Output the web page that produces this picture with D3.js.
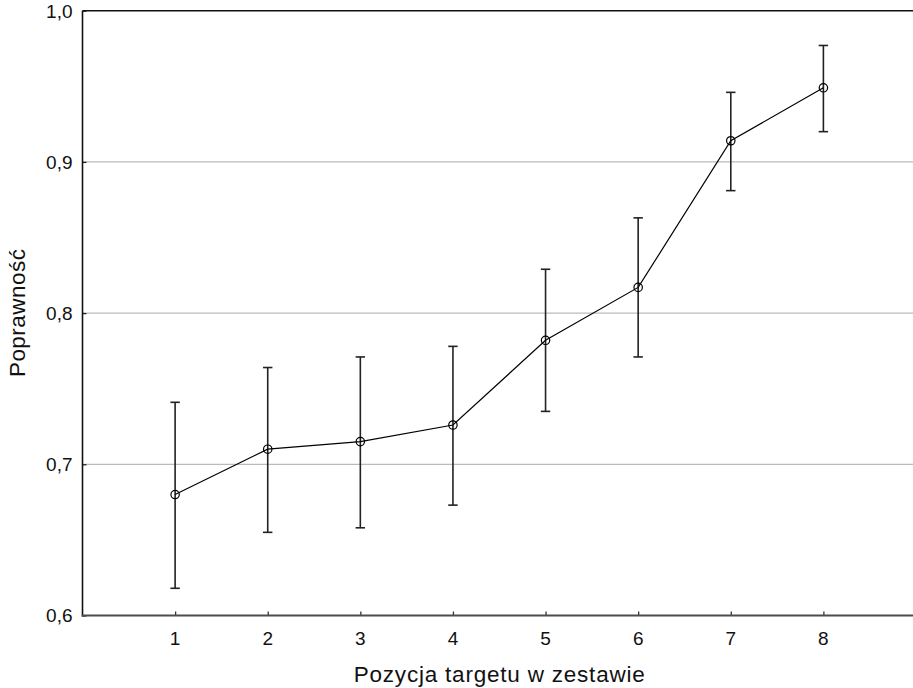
<!DOCTYPE html>
<html>
<head>
<meta charset="utf-8">
<script src="https://cdn.jsdelivr.net/npm/d3@7"></script>
<style>
  html, body { margin: 0; padding: 0; background: #fff; }
  svg { display: block; font-family: "Liberation Sans", Arial, sans-serif; }
</style>
</head>
<body>
<svg id="chart" width="913" height="688"></svg>
<script>
// Accuracy by target position, with confidence intervals
const positions = [1, 2, 3, 4, 5, 6, 7, 8];
const means     = [0.680, 0.710, 0.715, 0.726, 0.782, 0.817, 0.914, 0.949];
const upper     = [0.741, 0.764, 0.771, 0.778, 0.829, 0.863, 0.946, 0.977];
const lower     = [0.618, 0.655, 0.658, 0.673, 0.735, 0.771, 0.881, 0.920];
const yTicks    = [0.6, 0.7, 0.8, 0.9, 1.0];
const gridVals  = [0.7, 0.8, 0.9];

const svg = d3.select("#chart");
const plotLeft = 82.5, plotRight = 916, plotTop = 10.7, plotBottom = 615.5;

const x = d3.scaleLinear().domain([0, 9]).range([plotLeft, plotRight]);
const y = d3.scaleLinear().domain([0.6, 1.0]).range([plotBottom, plotTop]);
const fmt = v => d3.format(".1f")(v).replace(".", ",");

// horizontal grid lines
svg.append("g").selectAll("line").data(gridVals).join("line")
  .attr("x1", plotLeft).attr("x2", 913)
  .attr("y1", d => y(d)).attr("y2", d => y(d))
  .attr("stroke", "#aaaaaa").attr("stroke-width", 1);

// y axis: short inward ticks, labels on the left
const yAxis = svg.append("g")
  .attr("transform", `translate(${plotLeft},0)`)
  .call(d3.axisRight(y).tickValues(yTicks).tickSize(4).tickFormat(""));
yAxis.select(".domain").remove();
yAxis.selectAll(".tick line").attr("stroke", "#222").attr("stroke-width", 1.3);
svg.append("g").selectAll("text").data(yTicks).join("text")
  .attr("x", plotLeft - 10).attr("y", d => y(d))
  .attr("dy", "0.36em")
  .attr("text-anchor", "end")
  .attr("font-size", 19)
  .attr("fill", "#111")
  .text(fmt);

// x axis: short inward ticks, labels below
const xAxis = svg.append("g")
  .attr("transform", `translate(0,${plotBottom})`)
  .call(d3.axisTop(x).tickValues(positions).tickSize(4).tickFormat(""));
xAxis.select(".domain").remove();
xAxis.selectAll(".tick line").attr("stroke", "#333").attr("stroke-width", 1.3);
svg.append("g").selectAll("text").data(positions).join("text")
  .attr("x", d => x(d)).attr("y", 645)
  .attr("text-anchor", "middle")
  .attr("font-size", 19)
  .attr("fill", "#111")
  .text(d => d);

// frame: left, top and bottom lines
svg.append("line").attr("x1", plotLeft).attr("x2", plotLeft).attr("y1", plotTop).attr("y2", plotBottom + 1)
  .attr("stroke", "#111").attr("stroke-width", 1.6);
svg.append("line").attr("x1", plotLeft).attr("x2", 913).attr("y1", plotTop).attr("y2", plotTop)
  .attr("stroke", "#111").attr("stroke-width", 1.5);
svg.append("line").attr("x1", plotLeft - 0.8).attr("x2", 913).attr("y1", plotBottom).attr("y2", plotBottom)
  .attr("stroke", "#4d4d4d").attr("stroke-width", 2.2);

// error bars
const eb = svg.append("g").attr("stroke", "#222").attr("stroke-width", 1.6);
positions.forEach((p, i) => {
  eb.append("line").attr("x1", x(p)).attr("x2", x(p)).attr("y1", y(upper[i])).attr("y2", y(lower[i]));
  eb.append("line").attr("x1", x(p) - 4.7).attr("x2", x(p) + 4.7).attr("y1", y(upper[i])).attr("y2", y(upper[i]));
  eb.append("line").attr("x1", x(p) - 4.7).attr("x2", x(p) + 4.7).attr("y1", y(lower[i])).attr("y2", y(lower[i]));
});

// mean line
const pts = positions.map((p, i) => [p, means[i]]);
svg.append("path")
  .datum(pts)
  .attr("fill", "none").attr("stroke", "#000").attr("stroke-width", 1.2)
  .attr("d", d3.line().x(d => x(d[0])).y(d => y(d[1])));

// open circle markers
svg.append("g").selectAll("circle").data(pts).join("circle")
  .attr("cx", d => x(d[0])).attr("cy", d => y(d[1]))
  .attr("r", 4.2)
  .attr("fill", "none").attr("stroke", "#000").attr("stroke-width", 1.2);

// axis titles
svg.append("text")
  .attr("x", (plotLeft + plotRight) / 2).attr("y", 681.5)
  .attr("text-anchor", "middle")
  .attr("font-size", 22.5)
  .attr("textLength", 291).attr("lengthAdjust", "spacing")
  .attr("fill", "#111")
  .text("Pozycja targetu w zestawie");
svg.append("text")
  .attr("transform", `translate(25,${(plotTop + plotBottom) / 2}) rotate(-90)`)
  .attr("text-anchor", "middle")
  .attr("font-size", 22.5)
  .attr("textLength", 128).attr("lengthAdjust", "spacing")
  .attr("fill", "#111")
  .text("Poprawność");
</script>
</body>
</html>
